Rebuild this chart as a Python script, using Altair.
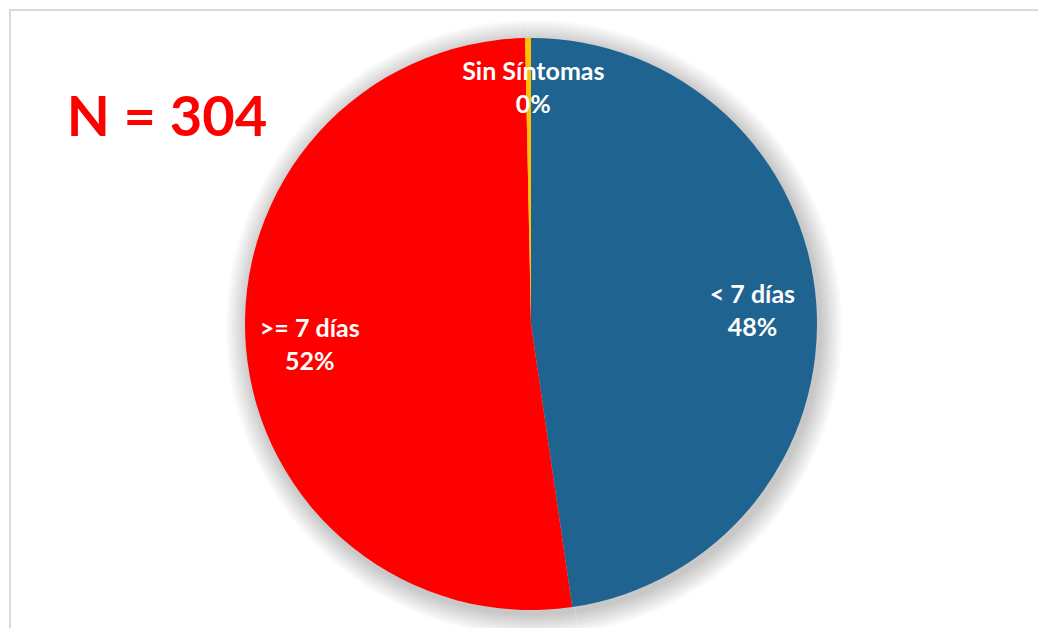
import altair as alt
import pandas as pd

categories = ["< 7 días", ">= 7 días", "Sin Síntomas"]
counts = [145, 158, 1]
pct_labels = ["48%", "52%", "0%"]
colors = ["#1F6391", "#FF0000", "#FFC000"]
order = [1, 2, 3]
n_label = "N = 304"

df = pd.DataFrame({
    "cat": categories,
    "n": counts,
    "pct": pct_labels,
    "ord": order,
})
df["label"] = df["cat"] + "\n" + df["pct"]

CX, CY, R = 522, 315, 286
FONT = "Lato"

base = alt.Chart(df).encode(
    theta=alt.Theta("n:Q", stack=True),
    order=alt.Order("ord:Q"),
)

shadow_layers = [
    base.mark_arc(radius=R + 2 * k, color="#000000", opacity=0.018).encode(
        x=alt.value(CX + 3), y=alt.value(CY + 4)
    )
    for k in range(1, 12)
]

pie = base.mark_arc(radius=R).encode(
    color=alt.Color("cat:N", scale=alt.Scale(domain=categories, range=colors), legend=None),
    x=alt.value(CX), y=alt.value(CY),
)

text_style = dict(font=FONT, fontSize=25, fontWeight="bold", color="white",
                  lineBreak="\n", lineHeight=33, baseline="middle", align="center")

labels_main = base.mark_text(radius=222, **text_style).encode(
    text="label:N", x=alt.value(CX), y=alt.value(CY - 13),
).transform_filter("datum.ord != 3")

labels_small = base.mark_text(radius=226, **text_style).encode(
    text="label:N", x=alt.value(CX), y=alt.value(CY - 26),
).transform_filter("datum.ord == 3")

ndf = pd.DataFrame({"t": [n_label]})
ntext = alt.Chart(ndf).mark_text(
    font=FONT, fontSize=56, fontWeight="bold", color="#FF0000", align="center", baseline="alphabetic"
).encode(text="t:N", x=alt.value(158), y=alt.value(127))

frame_top = alt.Chart(ndf).mark_rule(color="#D9D9D9", strokeWidth=2).encode(
    x=alt.value(0), x2=alt.value(1030), y=alt.value(1))
frame_left = alt.Chart(ndf).mark_rule(color="#D9D9D9", strokeWidth=2).encode(
    x=alt.value(1), y=alt.value(0), y2=alt.value(620))

chart = alt.layer(*shadow_layers, pie, labels_main, labels_small, ntext, frame_top, frame_left).properties(
    width=1030, height=620,
    padding=0,
    autosize=alt.AutoSizeParams(type="fit", contains="padding"),
).configure_view(stroke=None)

chart.save("out.html", embed_options={"renderer": "svg", "actions": False})
